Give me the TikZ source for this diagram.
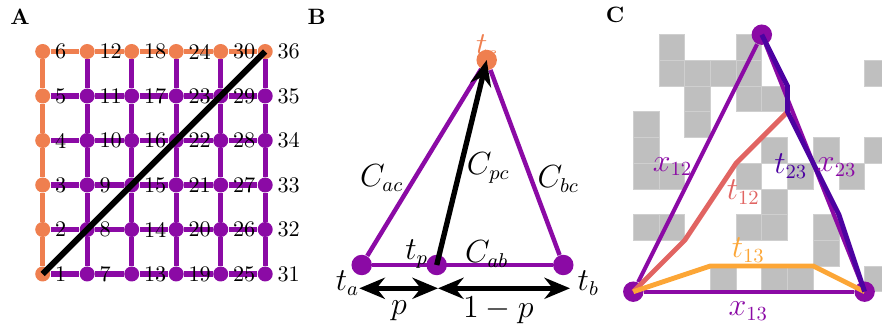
\documentclass[tikz,border=0pt]{standalone}
\usepackage{amsmath}
\usetikzlibrary{arrows.meta,positioning,backgrounds}
\definecolor{plumA}{HTML}{8B0AA5}
\definecolor{coralA}{HTML}{EF7F4F}
\definecolor{salmonA}{HTML}{E16462}
\definecolor{amberA}{HTML}{FCA636}
\definecolor{indigoA}{HTML}{4C02A1}
\newcommand{\lbl}{\fontsize{13.5}{16}\selectfont}

\begin{document}
\begin{tikzpicture}[x=0.45pt, y=-0.45pt,
    >={Stealth[length=11.5pt,width=9.5pt]},
    site/.style={circle, fill=#1, inner sep=0pt, minimum size=6.75pt},
    bigsite/.style={circle, fill=#1, inner sep=0pt, minimum size=9.2pt},
    num/.style={inner sep=0pt},
    tag/.style={inner sep=0pt, font=\lbl},
    panel/.style={inner sep=0pt, font=\bfseries},
    gridedge/.style={line width=2.3pt},
    tri/.style={draw=plumA, line width=2pt},
    xedge/.style={draw=plumA, line width=1.8pt},
    tpath/.style={line width=2.2pt, line join=round},
    cell/.style={fill=gray!50, draw=gray!38, line width=0.3pt}]
  \useasboundingbox (0,0) rectangle (882,324);

  % A: lattice
  \node[panel] (pA) at (20,17) {A};
  \foreach \i in {0,...,5}
    \foreach \j in {0,...,5} {
      \pgfmathtruncatemacro\k{6*\i+\j+1}
      \ifnum\i=0 \def\sc{coralA}\else\ifnum\j=5 \def\sc{coralA}\else\def\sc{plumA}\fi\fi
      \node[site=\sc] (n\k) at ({42.7+44.5*\i},{274-44.5*\j}) {};
      \node[num, right=1.8pt of n\k] (l\k) {\k};
    }
  \begin{pgfonlayer}{background}
    \foreach \i in {0,...,5}
      \foreach \j in {0,...,4} {
        \pgfmathtruncatemacro\k{6*\i+\j+1}
        \pgfmathtruncatemacro\m{\k+1}
        \ifnum\i=0 \def\sc{coralA}\else\def\sc{plumA}\fi
        \draw[gridedge, draw=\sc] (n\k) -- (n\m);
      }
    \foreach \i in {0,...,4}
      \foreach \j in {0,...,5} {
        \pgfmathtruncatemacro\k{6*\i+\j+1}
        \pgfmathtruncatemacro\m{\k+6}
        \ifnum\j=5 \def\sc{coralA}\else\def\sc{plumA}\fi
        \draw[gridedge, draw=\sc] (n\k) -- (n\m);
      }
  \end{pgfonlayer}
  \draw[line width=2.7pt] (n1.center) -- (n36.center);

  % B: triangle
  \node[panel] (pB) at (316.7,17) {B};
  \node[bigsite=plumA] (ta) at (361.7,265) {};
  \node[bigsite=plumA] (tp) at (436.7,265) {};
  \node[bigsite=plumA] (tb) at (563.3,265) {};
  \node[tag, text=coralA] (tcl) at (486.7,47.5) {$t_c$};
  \node[bigsite=coralA] (tc) at (486.7,60) {};
  \begin{pgfonlayer}{background}
    \draw[tri] (ta) -- (tc);
    \draw[tri] (tc) -- (tb);
    \draw[tri] (ta) -- (tb);
  \end{pgfonlayer}
  \draw[->, line width=2.4pt] (tp.center) -- (tc.center);
  \coordinate (da) at (359.3,288.3);
  \coordinate (dp) at (438,288.3);
  \coordinate (db) at (570,288.3);
  \draw[<->, line width=2.2pt] (da) -- (dp);
  \draw[<->, line width=2.2pt] (dp) -- (db);
  \node[tag] (cac) at (381.7,178.3) {$C_{ac}$};
  \node[tag] (cpc) at (488.3,168.3) {$C_{pc}$};
  \node[tag] (cbc) at (558.3,179) {$C_{bc}$};
  \node[tag] (tpl) at (416.7,254) {$t_p$};
  \node[tag] (cab) at (486.7,254) {$C_{ab}$};
  \node[tag] (tal) at (347.5,283.3) {$t_a$};
  \node[tag] (tbl) at (588.3,283.3) {$t_b$};
  \node[tag] (pl) at (399,310.8) {$p$};
  \node[tag] (ql) at (498.3,310) {$1-p$};

  % C: paths over a random grid
  \node[panel] (pC) at (615,15) {C};
  \begin{scope}[xshift=284.985pt, yshift=-131.265pt, x=11.565pt, y=11.565pt]
    \begin{pgfonlayer}{background}
      \begin{scope}
        \clip (-1,-1) rectangle (9.677,11);
        \foreach \c/\r in {1/9,4/9,1/8,2/8,3/8,4/8,9/8,2/7,4/7,5/7,0/6,2/6,
                           0/5,5/5,7/5,9/5,0/4,1/4,4/4,6/4,8/4,5/3,
                           0/2,1/2,4/2,5/2,7/2,7/1,3/0,5/0,6/0,9/0}
          \filldraw[cell] (\c,\r) rectangle ++(1,1);
      \end{scope}
    \end{pgfonlayer}
    \node[bigsite=plumA] (v1) at (0,0) {};
    \node[bigsite=plumA] (v2) at (5,10) {};
    \node[bigsite=plumA] (v3) at (9,0) {};
    \begin{pgfonlayer}{background}
      \draw[xedge] (v1) -- (v2);
      \draw[xedge] (v2) -- (v3);
      \draw[xedge] (v1) -- (v3);
    \end{pgfonlayer}
    \coordinate (m12) at (6,7);
    \draw[tpath, salmonA] (v1.center) -- (2,2) -- (4,5) -- (m12);
    \draw[tpath, amberA] (v1.center) -- (3,1) -- (7,1) -- (v3.center);
    \draw[tpath, indigoA] (v2.center) -- (6,8) -- (m12) -- (8,3) -- (v3.center);
  \end{scope}
  \node[tag, text=plumA] (x12) at (672.5,166.7) {$x_{12}$};
  \node[tag, text=indigoA] (t23) at (790.8,165.8) {$t_{23}$};
  \node[tag, text=plumA] (x23) at (836.7,167.5) {$x_{23}$};
  \node[tag, text=salmonA] (t12) at (743.3,192.5) {$t_{12}$};
  \node[tag, text=amberA] (t13) at (748.3,250) {$t_{13}$};
  \node[tag, text=plumA] (x13) at (748.3,310.8) {$x_{13}$};
\end{tikzpicture}
\end{document}
